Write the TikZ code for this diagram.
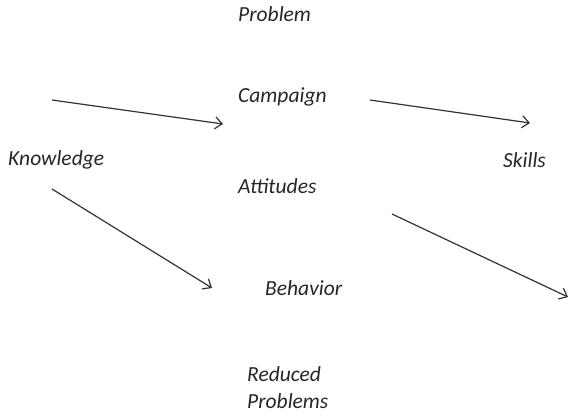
\documentclass[tikz,border=0pt]{standalone}
\usepackage{fontspec}
\setmainfont{Carlito}
\usetikzlibrary{arrows.meta, positioning}
\tikzset{
  label/.style={
    inner sep=0pt, anchor=west, align=left,
    font=\fontsize{21.5}{27}\selectfont\itshape, text=black!85
  },
  arrow/.style={-{Straight Barb[length=7pt, width=12pt]}, line width=1.2pt, draw=black!80}
}
\begin{document}
\begin{tikzpicture}[x=1pt, y=-1pt]
\useasboundingbox (0,0) rectangle (576,420);

% Labels
\node[label] (problem) at (238,14) {Problem};
\node[label] (campaign) at (238,97) {Campaign};
\node[label] (knowledge) at (8,160) {Knowledge};
\node[label] (skills) at (503,160) {Skills};
\node[label] (attitudes) at (238,186) {Attitudes};
\node[label] (behavior) at (265,288) {Behavior};
\node[label] (reduced) at (247,388) {Reduced\\Problems};

% Arrow ends
\coordinate (a1) at (52,100);
\coordinate (b1) at (223,124);
\coordinate (a2) at (370,100);
\coordinate (b2) at (530,123);
\coordinate (a3) at (52,189);
\coordinate (b3) at (212,288);
\coordinate (a4) at (392,214);
\coordinate (b4) at (568,297);

% Arrows
\draw[arrow] (a1) -- (b1);
\draw[arrow] (a2) -- (b2);
\draw[arrow] (a3) -- (b3);
\draw[arrow] (a4) -- (b4);

\end{tikzpicture}
\end{document}
